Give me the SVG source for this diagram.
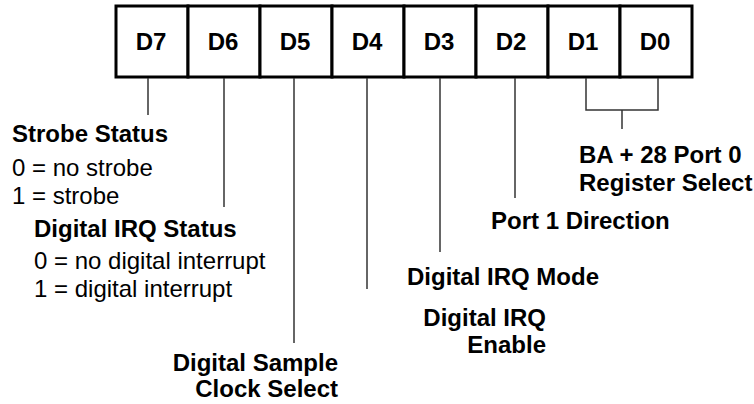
<svg xmlns="http://www.w3.org/2000/svg" width="754" height="404" viewBox="0 0 754 404">
  <style>
    .cell { fill: #ffffff; stroke: #000000; stroke-width: 3; }
    .bit { font-family: "Liberation Sans", Arial, sans-serif; font-weight: bold; font-size: 24px; fill: #000; text-anchor: middle; }
    .hd { font-family: "Liberation Sans", Arial, sans-serif; font-weight: bold; font-size: 24px; fill: #000; }
    .tx { font-family: "Liberation Sans", Arial, sans-serif; font-size: 24px; fill: #000; }
    .wire { fill: none; stroke: #333333; stroke-width: 1.5; }
  </style>
  <rect width="754" height="404" fill="#ffffff"/>

  <!-- register bit cells -->
  <g id="register">
    <g id="bit-d7"><rect class="cell" x="116" y="6" width="72" height="71"/><text class="bit" x="151" y="50">D7</text></g>
    <g id="bit-d6"><rect class="cell" x="188" y="6" width="72" height="71"/><text class="bit" x="223" y="50">D6</text></g>
    <g id="bit-d5"><rect class="cell" x="260" y="6" width="72" height="71"/><text class="bit" x="295" y="50">D5</text></g>
    <g id="bit-d4"><rect class="cell" x="332" y="6" width="72" height="71"/><text class="bit" x="367" y="50">D4</text></g>
    <g id="bit-d3"><rect class="cell" x="404" y="6" width="72" height="71"/><text class="bit" x="439" y="50">D3</text></g>
    <g id="bit-d2"><rect class="cell" x="476" y="6" width="72" height="71"/><text class="bit" x="511" y="50">D2</text></g>
    <g id="bit-d1"><rect class="cell" x="548" y="6" width="72" height="71"/><text class="bit" x="583" y="50">D1</text></g>
    <g id="bit-d0"><rect class="cell" x="620" y="6" width="72" height="71"/><text class="bit" x="655" y="50">D0</text></g>
  </g>

  <!-- leader lines from bits to descriptions -->
  <g id="connectors">
    <line class="wire" x1="148" y1="78" x2="148" y2="115"/>
    <line class="wire" x1="224" y1="78" x2="224" y2="207"/>
    <line class="wire" x1="294" y1="78" x2="294" y2="343"/>
    <line class="wire" x1="367" y1="78" x2="367" y2="289"/>
    <line class="wire" x1="440" y1="78" x2="440" y2="252"/>
    <line class="wire" x1="515" y1="78" x2="515" y2="198"/>
    <polyline class="wire" points="586,78 586,110 658,110 658,78"/>
    <line class="wire" x1="622" y1="110" x2="622" y2="129"/>
  </g>

  <g id="label-d7">
    <text class="hd" x="12" y="142">Strobe Status</text>
    <text class="tx" x="12" y="176">0 = no strobe</text>
    <text class="tx" x="12" y="204">1 = strobe</text>
  </g>
  <g id="label-d6">
    <text class="hd" x="34" y="237">Digital IRQ Status</text>
    <text class="tx" x="34" y="269">0 = no digital interrupt</text>
    <text class="tx" x="34" y="297">1 = digital interrupt</text>
  </g>
  <g id="label-d5">
    <text class="hd" x="338" y="371" text-anchor="end">Digital Sample</text>
    <text class="hd" x="338" y="397" text-anchor="end">Clock Select</text>
  </g>
  <g id="label-d4">
    <text class="hd" x="546" y="326" text-anchor="end">Digital IRQ</text>
    <text class="hd" x="546" y="353" text-anchor="end">Enable</text>
  </g>
  <g id="label-d3">
    <text class="hd" x="407" y="285">Digital IRQ Mode</text>
  </g>
  <g id="label-d2">
    <text class="hd" x="491" y="229">Port 1 Direction</text>
  </g>
  <g id="label-d1-d0">
    <text class="hd" x="579" y="163">BA + 28 Port 0</text>
    <text class="hd" x="579" y="191">Register Select</text>
  </g>
</svg>
